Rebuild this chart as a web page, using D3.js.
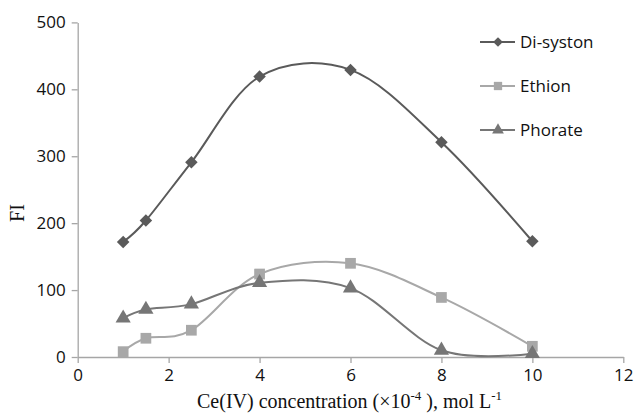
<!DOCTYPE html>
<html>
<head>
<meta charset="utf-8">
<script src="https://cdn.jsdelivr.net/npm/d3@7"></script>
<style>
body { margin: 0; background: #fff; }
text { fill: #111; }
</style>
</head>
<body>
<svg width="636" height="417"></svg>
<script>
var conc = [1, 1.5, 2.5, 4, 6, 8, 10];
var disyston = [172, 204, 291, 419, 429, 321, 173];
var ethion = [8, 28, 40, 124, 140, 89, 16];
var phorate = [58, 71, 79, 111, 103, 10, 5];
var xTicks = [0, 2, 4, 6, 8, 10, 12];
var yTicks = [0, 100, 200, 300, 400, 500];

var series = [
  { name: "Di-syston", vals: disyston, color: "#5a5a5a", shape: d3.symbolDiamond2, size: 100 },
  { name: "Ethion", vals: ethion, color: "#a8a8a8", shape: d3.symbolSquare, size: 115 },
  { name: "Phorate", vals: phorate, color: "#767676", shape: d3.symbolTriangle, size: 100 }
];

var svg = d3.select("svg");
var axisColor = "#a6a6a6";

var xScale = d3.scaleLinear().domain([0, 12]).range([77.7, 623.3]);
var yScale = d3.scaleLinear().domain([0, 500]).range([357, 22.4]);

var gx = svg.append("g")
  .attr("transform", "translate(0," + yScale(0) + ")")
  .call(d3.axisBottom(xScale).tickValues(xTicks).tickSize(6).tickSizeOuter(0).tickPadding(6));
var gy = svg.append("g")
  .attr("transform", "translate(" + xScale(0) + ",0)")
  .call(d3.axisLeft(yScale).tickValues(yTicks).tickSize(6).tickSizeOuter(0).tickPadding(6));

[gx, gy].forEach(function(g) {
  g.selectAll("path, line").attr("stroke", axisColor).attr("stroke-width", 1.3);
  g.selectAll("text").attr("font-family", "Open Sans, sans-serif").attr("font-size", 17).attr("fill", "#000");
});

var line = d3.line()
  .x(function(d) { return xScale(d[0]); })
  .y(function(d) { return yScale(d[1]); })
  .curve(d3.curveCatmullRom.alpha(0));

series.forEach(function(s) {
  var pts = conc.map(function(c, i) { return [c, s.vals[i]]; });
  svg.append("path")
    .datum(pts)
    .attr("fill", "none")
    .attr("stroke", s.color)
    .attr("stroke-width", 2)
    .attr("d", line);
  svg.selectAll(null)
    .data(pts)
    .enter()
    .append("path")
    .attr("transform", function(d) { return "translate(" + xScale(d[0]) + "," + yScale(d[1]) + ")"; })
    .attr("d", d3.symbol().type(s.shape).size(s.size))
    .attr("fill", s.color);
});

// legend
var legend = svg.append("g").attr("transform", "translate(480,42)");
series.forEach(function(s, i) {
  var row = legend.append("g").attr("transform", "translate(0," + (i * 44) + ")");
  row.append("line")
    .attr("x1", 0).attr("x2", 35).attr("y1", 0).attr("y2", 0)
    .attr("stroke", s.color).attr("stroke-width", 2);
  row.append("path")
    .attr("transform", "translate(18,0)")
    .attr("d", d3.symbol().type(s.shape).size(s.size * 0.6))
    .attr("fill", s.color);
  row.append("text")
    .attr("x", 40).attr("y", 6)
    .attr("font-family", "Open Sans, sans-serif")
    .attr("font-size", 17)
    .attr("fill", "#000")
    .text(s.name);
});

svg.append("text")
  .attr("transform", "translate(24,213) rotate(-90)")
  .attr("text-anchor", "middle")
  .attr("font-family", "Liberation Serif, serif")
  .attr("font-size", 20)
  .text("FI");

var xl = svg.append("text")
  .attr("x", 197).attr("y", 408)
  .attr("font-family", "Liberation Serif, serif")
  .attr("font-size", 20);
xl.append("tspan").text("Ce(IV) concentration (×10");
xl.append("tspan").attr("dy", -8).attr("font-size", 13).text("-4");
xl.append("tspan").attr("dy", 8).text("  ), mol L");
xl.append("tspan").attr("dy", -8).attr("font-size", 13).text("-1");
</script>
</body>
</html>
